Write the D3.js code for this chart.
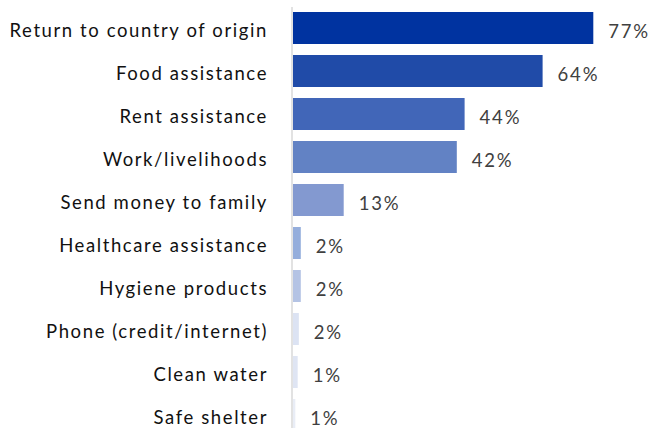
<!DOCTYPE html>
<html><head><meta charset="utf-8">
<script src="https://cdn.jsdelivr.net/npm/d3@7"></script>
<style>body{margin:0;background:#fff}svg{display:block}</style>
</head><body><svg id="c" width="650" height="428"></svg>
<script>
const categories = ["Return to country of origin","Food assistance","Rent assistance","Work/livelihoods","Send money to family","Healthcare assistance","Hygiene products","Phone (credit/internet)","Clean water","Safe shelter"];
const values = [77,64,44,42,13,2,2,1.5,1.2,0.6];
const colors = ["#0033A0","#204BA8","#4166B8","#6282C4","#8399D0","#95AEDC","#B4C3E4","#DCE3F3","#DFE5F3","#E9EDF6"];

const svg = d3.select("#c");
const x0 = 293;
const x = d3.scaleLinear().domain([0,100]).range([x0, x0+390]);
const y = d3.scaleBand().domain(categories).range([6.5, 436.5]).paddingInner(0.256).paddingOuter(0.128);

svg.selectAll("rect.bar").data(categories).enter().append("rect")
  .attr("class","bar")
  .attr("x", x(0))
  .attr("y", d=>y(d))
  .attr("width", (d,i)=>x(values[i])-x(0))
  .attr("height", y.bandwidth())
  .attr("fill", (d,i)=>colors[i]);

svg.append("line").attr("x1",292).attr("x2",292).attr("y1",7).attr("y2",428)
  .attr("stroke","#d9d9d9").attr("stroke-width",1.5);

const font = "Lato, sans-serif";
svg.selectAll("text.cat").data(categories).enter().append("text")
  .attr("class","cat")
  .attr("x",268).attr("y",d=>y(d)+y.bandwidth()/2+2.5)
  .attr("dy","0.35em").attr("text-anchor","end")
  .attr("font-family",font).attr("font-size",18.5).attr("letter-spacing","1.6px").attr("fill","#111")
  .text(d=>d);

svg.selectAll("text.val").data(categories).enter().append("text")
  .attr("class","val")
  .attr("x",(d,i)=>x(values[i])+15).attr("y",d=>y(d)+y.bandwidth()/2+3.5)
  .attr("dy","0.35em")
  .attr("font-family",font).attr("font-size",18.5).attr("letter-spacing","1.8px").attr("fill","#404040")
  .text((d,i)=>Math.round(values[i])+"%");
</script></body></html>
